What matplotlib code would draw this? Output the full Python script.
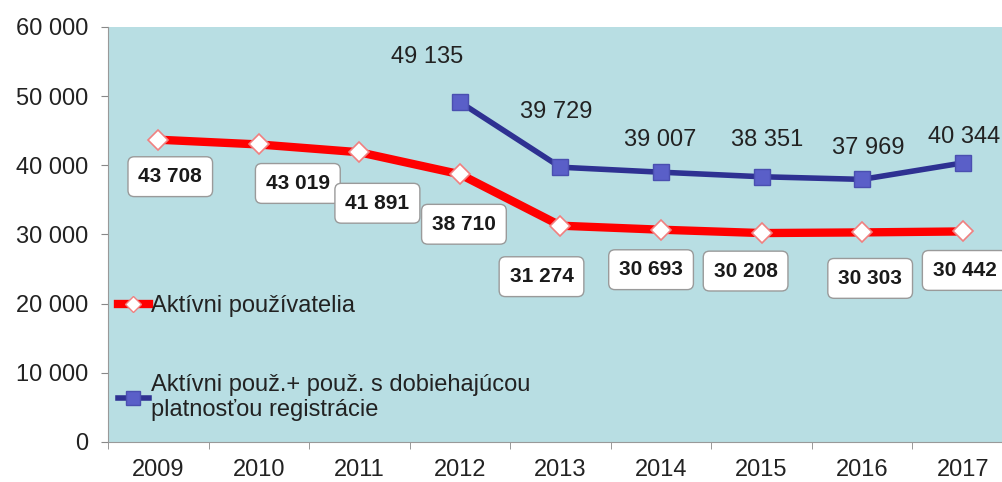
import numpy as np
import matplotlib.pyplot as plt
from matplotlib.lines import Line2D

# Údaje
roky = ['2009', '2010', '2011', '2012', '2013', '2014', '2015', '2016', '2017']
aktivni = [43708, 43019, 41891, 38710, 31274, 30693, 30208, 30303, 30442]
roky_modra = ['2012', '2013', '2014', '2015', '2016', '2017']
aktivni_s_reg = [49135, 39729, 39007, 38351, 37969, 40344]

# posuny popiskov (pixely)
posun_cervena = [(12, -37), (39, -39), (18, -51), (4, -50), (-19, -51),
                 (-10, -40), (-16, -38), (8, -46), (2, -39)]
posun_modra = [(-33, 45), (-4, 55), (-1, 32), (6, 37), (6, 31), (1, 26)]

plt.rcParams['font.family'] = ['Liberation Sans', 'DejaVu Sans']

fig = plt.figure(figsize=(10.03, 4.82), dpi=100)
ax = fig.add_axes([108 / 1003, 40 / 482, 905 / 1003, 415 / 482])
ax.set_facecolor('#B8DEE3')

x = np.arange(len(roky))
x_modra = np.array([roky.index(r) for r in roky_modra])

ax.plot(x, aktivni, color='#FF0000', lw=6, marker='D', ms=10,
        mfc='white', mec='#F08080', mew=1.2, zorder=3)
ax.plot(x_modra, aktivni_s_reg, color='#2E3192', lw=4, marker='s', ms=12,
        mfc='#5A5FC8', mec='#4A4FB0', mew=1, zorder=3)

for xi, v, (dx, dy) in zip(x, aktivni, posun_cervena):
    ax.annotate(f'{v:,}'.replace(',', ' '), (xi, v), xytext=(dx, dy),
                textcoords='offset pixels', ha='center', va='center',
                fontsize=15, fontweight='bold', color='#1a1a1a', zorder=5,
                bbox=dict(boxstyle='round,pad=0.5,rounding_size=0.3',
                          fc='white', ec='#9a9a9a', lw=1))

for xi, v, (dx, dy) in zip(x_modra, aktivni_s_reg, posun_modra):
    ax.annotate(f'{v:,}'.replace(',', ' '), (xi, v), xytext=(dx, dy),
                textcoords='offset pixels', ha='center', va='center',
                fontsize=17, color='#222222', zorder=5)

ax.set_xlim(-0.5, len(roky) - 0.5)
ax.set_ylim(0, 60000)
ax.set_yticks(np.arange(0, 60001, 10000))
ax.set_yticklabels([f'{v:,}'.replace(',', ' ') for v in range(0, 60001, 10000)])

ax.set_xticks(x)
ax.set_xticklabels(roky)
ax.set_xticks(np.arange(-0.5, len(roky), 1), minor=True)
ax.tick_params(axis='x', which='major', length=0, pad=12, labelsize=17,
               colors='#222222')
ax.tick_params(axis='x', which='minor', length=5, color='#888888')
ax.tick_params(axis='y', length=5, pad=9, labelsize=17, colors='#222222',
               color='#888888')

for s in ['top', 'right']:
    ax.spines[s].set_visible(False)
for s in ['left', 'bottom']:
    ax.spines[s].set_color('#999999')

h1 = Line2D([], [], color='#FF0000', lw=6, marker='D', ms=8,
            mfc='white', mec='#F08080')
h2 = Line2D([], [], color='#2E3192', lw=4, marker='s', ms=10,
            mfc='#5A5FC8', mec='#4A4FB0')
ax.legend([h1, h2], ['Aktívni používatelia',
                     'Aktívni použ.+ použ. s dobiehajúcou\nplatnosťou registrácie'],
          loc='upper left', bbox_to_anchor=(10 / 905, 147 / 415),
          frameon=False, fontsize=17, handlelength=1.3, handletextpad=0.1,
          labelspacing=2.4, borderaxespad=0, borderpad=0, labelcolor='#222222')

fig.savefig('out.png', dpi=100)
